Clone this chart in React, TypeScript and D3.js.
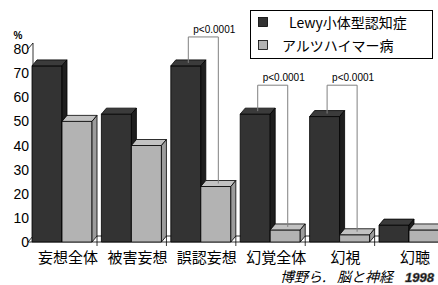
import * as d3 from 'd3';

const categories = ['妄想全体', '被害妄想', '誤認妄想', '幻覚全体', '幻視', '幻聴'];
const seriesNames = ['Lewy小体型認知症', 'アルツハイマー病'];
const lewyValues = [73, 53, 73, 53, 52, 7];
const adValues = [50, 40, 23, 5, 3, 5];
const yTicks = [0, 10, 20, 30, 40, 50, 60, 70, 80];
const pAnnotations = [
  { category: '誤認妄想', top: 85, label: 'p<0.0001' },
  { category: '幻覚全体', top: 65, label: 'p<0.0001' },
  { category: '幻視', top: 65, label: 'p<0.0001' },
];

const W = 438;
const H = 285;
const baseY = 242;
const depthX = 5;
const depthY = 6;

const colors = [
  { front: '#333333', top: '#3b3b3b', side: '#1e1e1e' },
  { front: '#b3b3b3', top: '#c2c2c2', side: '#9c9c9c' },
];

const latin = '"Liberation Sans", Arial, sans-serif';
const cjk = '"Noto Sans CJK JP", "Liberation Sans", sans-serif';

export default function App() {
  const x = d3
    .scaleBand<string>()
    .domain(categories)
    .range([32, 32 + 6 * 69.4])
    .paddingInner(0.135)
    .paddingOuter(0.0675)
    .align(0);
  const x1 = d3.scaleBand<number>().domain([0, 1]).range([0, x.bandwidth()]);
  const y = d3.scaleLinear().domain([0, 80]).range([baseY, 49]);
  const bw = x1.bandwidth();

  const series = [lewyValues, adValues];

  const bar = (bx: number, v: number, c: typeof colors[0], key: string) => {
    const yt = y(v);
    return (
      <g key={key} stroke="#000" strokeWidth={0.8} strokeLinejoin="round">
        <rect x={bx} y={yt} width={bw} height={baseY - yt} fill={c.front} />
        <polygon
          points={`${bx},${yt} ${bx + depthX},${yt - depthY} ${bx + bw + depthX},${yt - depthY} ${bx + bw},${yt}`}
          fill={c.top}
        />
        <polygon
          points={`${bx + bw},${yt} ${bx + bw + depthX},${yt - depthY} ${bx + bw + depthX},${baseY - depthY} ${bx + bw},${baseY}`}
          fill={c.side}
        />
      </g>
    );
  };

  return (
    <svg
      width={W}
      height={H}
      style={{ position: 'absolute', left: 0, top: 0, background: '#fff' }}
    >
      {/* walls and floor */}
      <g stroke="#000" strokeWidth={0.8} fill="none">
        <line x1={28} y1={baseY} x2={W} y2={baseY} />
        <line x1={28 + depthX} y1={baseY - depthY} x2={W} y2={baseY - depthY} />
        <line x1={28} y1={baseY} x2={28 + depthX} y2={baseY - depthY} />
        <line x1={28 + depthX} y1={baseY - depthY} x2={28 + depthX} y2={y(80) - depthY} />
        <line x1={28} y1={y(80)} x2={28 + depthX} y2={y(80) - depthY} />
        {categories.map((c) => {
          const tx = (x(c) ?? 0) + x.bandwidth() + depthX;
          return <line key={c} x1={tx} y1={baseY - depthY} x2={tx} y2={baseY + 4} />;
        })}
      </g>

      {yTicks.map((t) => (
        <text
          key={t}
          x={29}
          y={y(t) + 5}
          textAnchor="end"
          fontFamily={latin}
          fontSize={14}
          fill="#000"
        >
          {t}
        </text>
      ))}
      <text x={18} y={39} textAnchor="middle" fontFamily={latin} fontSize={10} fontWeight="bold">
        %
      </text>

      {categories.map((c, i) =>
        series.map((vals, s) => bar((x(c) ?? 0) + (x1(s) ?? 0), vals[i], colors[s], `${c}-${s}`))
      )}

      {pAnnotations.map((a) => {
        const i = categories.indexOf(a.category);
        const bx = x(a.category) ?? 0;
        const lx = bx + (x1(0) ?? 0) + bw / 2 + depthX / 2;
        const rx = bx + (x1(1) ?? 0) + bw / 2 + depthX / 2;
        const ty = y(a.top);
        return (
          <g key={a.category}>
            <polyline
              points={`${lx},${y(lewyValues[i]) - depthY / 2} ${lx},${ty} ${rx},${ty} ${rx},${y(adValues[i]) - depthY / 2}`}
              fill="none"
              stroke="#808080"
              strokeWidth={1}
            />
            <text x={lx + 5} y={ty - 4} fontFamily={latin} fontSize={10} fill="#000">
              {a.label}
            </text>
          </g>
        );
      })}

      {categories.map((c) => (
        <text
          key={c}
          x={(x(c) ?? 0) + x.bandwidth() / 2 + 6}
          y={263}
          textAnchor="middle"
          fontFamily={cjk}
          fontSize={15}
          fill="#000"
        >
          {c}
        </text>
      ))}

      {/* legend */}
      <rect x={250.5} y={10.5} width={182} height={48} fill="#fff" stroke="#000" strokeWidth={1} />
      {seriesNames.map((name, s) => (
        <g key={name}>
          <rect
            x={258.5}
            y={17.5 + s * 23}
            width={9}
            height={9}
            fill={colors[s].front}
            stroke="#000"
            strokeWidth={0.8}
          />
          <text x={s === 0 ? 289 : 282} y={28 + s * 23} fontFamily={cjk} fontSize={14} fill="#000">
            {name}
          </text>
        </g>
      ))}

      {/* citation */}
      <text y={282} fontFamily={cjk} fontSize={14} fontStyle="italic" fill="#000">
        <tspan x={280}>博野ら.</tspan>
        <tspan x={337}>脳と神経</tspan>
      </text>
      <text
        x={405}
        y={282}
        fontFamily={latin}
        fontSize={13}
        fontStyle="italic"
        fontWeight="bold"
        fill="#000"
        stroke="#666"
        strokeWidth={0.6}
      >
        1998
      </text>
    </svg>
  );
}
